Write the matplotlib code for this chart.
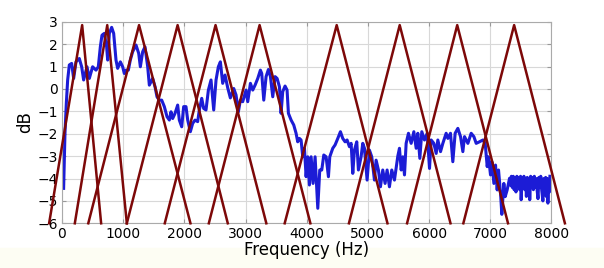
import matplotlib.pyplot as plt
from matplotlib.patches import Rectangle

# spectrum: frequency (Hz) and level (dB)
freq = [27, 38, 49, 71, 93, 120, 158, 191, 229, 283, 322, 354, 409, 447, 501,
        556, 594, 627, 654, 692, 730, 747, 774, 812, 845, 883, 910, 954, 992,
        1019, 1046, 1085, 1117, 1155, 1210, 1254, 1281, 1319, 1357, 1401, 1428,
        1482, 1521, 1553, 1591, 1630, 1673, 1717, 1755, 1782, 1809, 1848, 1891,
        1918, 1957, 1989, 2027, 2055, 2098, 2136, 2175, 2218, 2245, 2284, 2316,
        2354, 2393, 2436, 2480, 2518, 2556, 2589, 2627, 2665, 2709, 2752, 2807,
        2845, 2883, 2916, 2954, 3009, 3036, 3080, 3118, 3156, 3200, 3243, 3265,
        3298, 3336, 3374, 3407, 3445, 3483, 3516, 3554, 3581, 3608, 3646, 3679,
        3701, 3745, 3788, 3826, 3853, 3881, 3908, 3935, 3963, 3990, 4017, 4044,
        4072, 4104, 4137, 4181, 4213, 4246, 4279, 4317, 4355, 4377, 4426, 4464,
        4508, 4551, 4589, 4627, 4660, 4698, 4726, 4753, 4780, 4818, 4845, 4889,
        4916, 4944, 4987, 5025, 5063, 5107, 5134, 5172, 5205, 5243, 5281, 5314,
        5352, 5390, 5434, 5489, 5516, 5544, 5571, 5598, 5625, 5663, 5707, 5751,
        5789, 5816, 5849, 5881, 5925, 5969, 6007, 6034, 6078, 6116, 6143, 6187,
        6225, 6279, 6307, 6350, 6388, 6426, 6470, 6514, 6552, 6579, 6634, 6688,
        6732, 6770, 6824, 6879, 6917, 6950, 6971, 7004, 7026, 7059, 7086, 7113,
        7135, 7168, 7189, 7222, 7244, 7276, 7315, 7330, 7345, 7360, 7375, 7390,
        7405, 7420, 7435, 7450, 7465, 7480, 7495, 7505, 7520, 7535, 7550, 7565,
        7580, 7590, 7605, 7620, 7635, 7645, 7660, 7675, 7690, 7705, 7720, 7735,
        7750, 7765, 7780, 7795, 7810, 7825, 7840, 7860, 7875, 7890, 7905, 7915,
        7930, 7942, 7955, 7968, 7975]
level = [-4.44, -3.18, -1.99, -0.65, 0.40, 1.07, 1.14, 0.47, 1.21, 1.36, 0.99,
         0.40, 0.99, 0.47, 0.99, 0.84, 0.99, 1.88, 2.40, 2.48, 1.88, 1.29, 2.48,
         2.75, 2.48, 1.29, 0.92, 1.21, 0.99, 0.69, 0.84, 0.84, 1.29, 1.66, 1.96,
         1.59, 0.99, 1.66, 1.88, 0.99, 0.17, 0.47, 0.10, -0.35, -0.50, -0.50,
         -0.79, -1.24, -1.39, -1.02, -1.32, -1.09, -0.72, -1.39, -1.69, -0.79,
         -0.79, -1.39, -1.91, -1.54, -1.39, -1.46, -0.94, -0.42, -0.87, -0.94,
         -0.05, 0.40, -0.94, 0.40, 0.99, 1.21, 0.25, 0.62, 0.05, -0.40, 0.02,
         -0.27, -1.02, -0.50, -0.57, -0.05, -0.57, 0.25, -0.05, 0.17, 0.47, 0.84,
         0.69, -0.50, 0.55, 0.87, 0.55, -0.35, 0.55, 0.47, 0.10, -1.09, -0.12,
         0.13, -0.05, -1.09, -1.39, -1.61, -1.98, -2.36, -2.21, -2.28, -3.03,
         -2.65, -3.92, -3.03, -4.29, -3.03, -4.22, -3.03, -5.33, -3.62, -3.62,
         -2.95, -3.03, -3.92, -3.03, -2.65, -2.50, -2.21, -1.91, -2.21, -2.36,
         -2.28, -2.58, -2.43, -3.77, -2.73, -2.36, -3.62, -3.03, -2.43, -2.65,
         -4.07, -2.73, -3.03, -4.07, -3.18, -3.62, -4.37, -3.62, -4.22, -3.62,
         -4.37, -3.62, -4.07, -3.00, -2.65, -3.62, -3.03, -3.84, -2.43, -1.98,
         -2.43, -1.91, -2.65, -1.98, -3.10, -1.91, -2.28, -1.98, -3.55, -2.28,
         -2.43, -2.88, -2.28, -2.80, -2.43, -1.98, -2.21, -1.98, -3.25, -1.98,
         -1.76, -2.13, -2.80, -2.13, -2.43, -1.98, -2.13, -2.43, -2.36, -2.28,
         -2.43, -3.47, -3.03, -3.84, -3.25, -4.22, -3.40, -4.51, -3.62, -4.66,
         -5.60, -4.22, -4.81, -4.51, -3.99, -4.30, -3.90, -4.40, -3.90, -4.50,
         -3.95, -4.60, -3.90, -4.30, -3.95, -4.50, -3.90, -4.95, -4.00, -4.40,
         -3.90, -4.50, -4.00, -4.80, -3.95, -4.40, -4.00, -4.95, -3.90, -4.40,
         -3.95, -4.50, -3.90, -4.40, -4.00, -4.50, -4.90, -3.95, -4.40, -3.90,
         -4.50, -5.00, -4.00, -4.40, -3.95, -4.80, -4.00, -5.10, -4.10, -4.60,
         -3.90]

# triangular filters (Hz): left foot, peak, right foot
tri_left = [-210, 210, 430, 1060, 1680, 2400, 3640, 4690, 5640, 6560]
tri_peak = [330, 740, 1260, 1890, 2510, 3230, 4490, 5520, 6460, 7390]
tri_right = [640, 1060, 2100, 2710, 3340, 4060, 5320, 6350, 7290, 8220]
tri_top = 2.85
tri_base = -6

fig = plt.figure(figsize=(6.04, 2.68), dpi=100)
fig.patches.append(Rectangle((0, 0), 1, 0.075, transform=fig.transFigure,
                             color='#fdfdf3', zorder=-1))
ax = fig.add_axes([0.1026, 0.1668, 0.8104, 0.752])

ax.plot(freq, level, color='#1c1cd6', lw=2.2, zorder=2)
for l, p, r in zip(tri_left, tri_peak, tri_right):
    ax.plot([l, p, r], [tri_base, tri_top, tri_base], color='#7d0808',
            lw=1.8, clip_on=False, zorder=3)

ax.set_xlim(0, 8000)
ax.set_ylim(-6, 3)
ax.set_xticks(range(0, 8001, 1000))
ax.set_yticks(range(-6, 4))
ax.grid(True, color='#d8d8d8', lw=0.8)
ax.set_axisbelow(True)
ax.tick_params(direction='in', length=3, top=True, right=True,
               labelsize=10, color='#999999', pad=3)
for s in ax.spines.values():
    s.set_color('#aaaaaa')
ax.set_xlabel('Frequency (Hz)', fontsize=12, labelpad=0)
ax.set_ylabel('dB', fontsize=12, labelpad=2)

plt.savefig('out.png', dpi=100)
